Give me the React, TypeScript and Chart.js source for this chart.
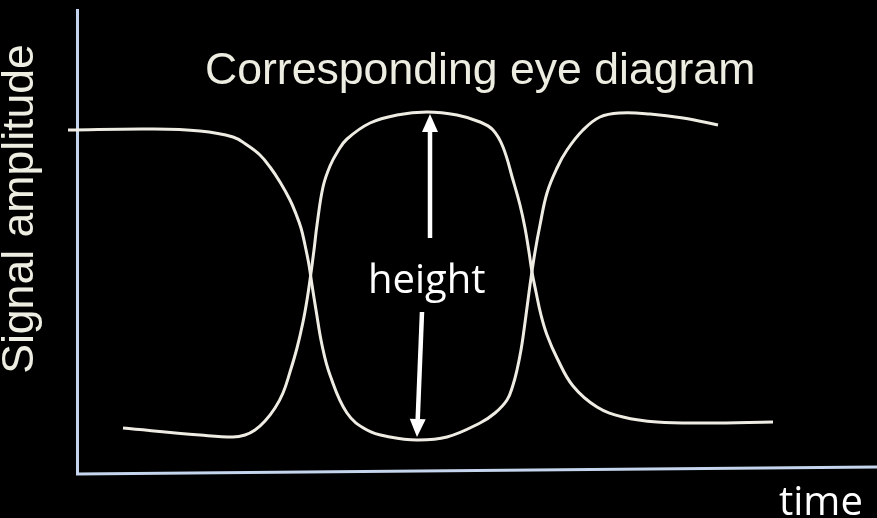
import React, { useEffect, useRef } from "react";
import { Chart, registerables } from "chart.js";

Chart.register(...registerables);

// time (x) and signal amplitude (y), arbitrary units
const curveATime = [-10, 72, 122, 155, 169, 182, 192, 202, 212, 218, 223, 227, 231, 234, 238, 244, 252, 269, 289, 312, 339, 369, 402, 417, 429, 435, 439, 443, 446, 450, 453, 457, 462, 469, 479, 489, 505, 522, 542, 572, 605, 640];
const curveAAmp = [345, 346, 344, 338, 330, 320, 308, 293, 275, 261, 247, 230, 210, 190, 165, 130, 100, 62, 45, 38, 35, 38, 52, 62, 75, 90, 105, 125, 145, 175, 197, 223, 250, 282, 307, 325, 345, 358, 362, 361, 357, 350];

const curveBTime = [45, 122, 155, 167, 177, 187, 197, 205, 212, 219, 225, 229, 232, 236, 239, 245, 252, 260, 269, 292, 319, 349, 379, 402, 415, 425, 435, 442, 447, 451, 454, 458, 463, 469, 479, 495, 519, 545, 579, 629, 695];
const curveBAmp = [47, 40, 38, 40, 45, 54, 67, 82, 103, 127, 153, 175, 195, 225, 250, 288, 309, 324, 336, 352, 360, 363, 360, 353, 345, 328, 295, 270, 247, 223, 203, 183, 160, 140, 117, 89, 68, 58, 53, 52, 53];

// axis frame (y axis top, origin, x axis end)
const frameTime = [-0.5, -0.5, 799];
const frameAmp = [466, 1, 8];

// height arrows: [fromTime, fromAmp, toTime, toAmp]
const arrowUp = [352, 237, 352, 361];
const arrowDown = [344, 163, 339, 38];

const titleText = "Corresponding eye diagram";
const yLabel = "Signal amplitude";
const xLabel = "time";
const heightLabel = "height";

const zip = (xs: number[], ys: number[]) => xs.map((x, i) => ({ x, y: ys[i] }));

const annotationPlugin = {
  id: "eyeAnnotations",
  afterDatasetsDraw(chart: any) {
    const { ctx, scales } = chart;
    const sx = (v: number) => scales.x.getPixelForValue(v);
    const sy = (v: number) => scales.y.getPixelForValue(v);

    const drawArrow = (a: number[]) => {
      const x1 = sx(a[0]), y1 = sy(a[1]), x2 = sx(a[2]), y2 = sy(a[3]);
      const ang = Math.atan2(y2 - y1, x2 - x1);
      const headLen = 18, headW = 8;
      const bx = x2 - headLen * Math.cos(ang);
      const by = y2 - headLen * Math.sin(ang);
      ctx.save();
      ctx.strokeStyle = "#ffffff";
      ctx.fillStyle = "#ffffff";
      ctx.lineWidth = 4.5;
      ctx.lineCap = "butt";
      ctx.beginPath();
      ctx.moveTo(x1, y1);
      ctx.lineTo(bx, by);
      ctx.stroke();
      ctx.beginPath();
      ctx.moveTo(x2, y2);
      ctx.lineTo(bx + headW * Math.sin(ang), by - headW * Math.cos(ang));
      ctx.lineTo(bx - headW * Math.sin(ang), by + headW * Math.cos(ang));
      ctx.closePath();
      ctx.fill();
      ctx.restore();
    };
    drawArrow(arrowUp);
    drawArrow(arrowDown);

    ctx.save();
    ctx.textBaseline = "alphabetic";
    ctx.textAlign = "left";
    ctx.fillStyle = "#EEEDE2";
    ctx.font = "44.6px 'Liberation Sans', Arial, sans-serif";
    ctx.fillText(titleText, sx(127), sy(391));

    ctx.fillStyle = "#ffffff";
    ctx.font = "40px 'Open Sans', sans-serif";
    ctx.fillText(heightLabel, sx(290), sy(182));
    ctx.fillText(xLabel, sx(701), sy(-40));

    ctx.translate(sx(-45), sy(266));
    ctx.rotate(-Math.PI / 2);
    ctx.textAlign = "center";
    ctx.fillStyle = "#EEEDE2";
    ctx.font = "44.6px 'Liberation Sans', Arial, sans-serif";
    ctx.fillText(yLabel, 0, 0);
    ctx.restore();
  },
};

export default function App() {
  const canvasRef = useRef<HTMLCanvasElement | null>(null);

  useEffect(() => {
    document.body.style.margin = "0";
    document.body.style.background = "#000";
    const canvas = canvasRef.current;
    if (!canvas) return;
    const curveStyle = {
      borderColor: "#EFEDE3",
      borderWidth: 3,
      pointRadius: 0,
      showLine: true,
      tension: 0.4,
      fill: false,
      order: 1,
    };
    const chart = new Chart(canvas, {
      type: "scatter",
      data: {
        datasets: [
          {
            label: "frame",
            data: zip(frameTime, frameAmp),
            borderColor: "#C5D5EE",
            borderWidth: 3,
            pointRadius: 0,
            showLine: true,
            tension: 0,
            borderJoinStyle: "miter",
            order: 2,
          },
          { label: "A", data: zip(curveATime, curveAAmp), ...curveStyle },
          { label: "B", data: zip(curveBTime, curveBAmp), ...curveStyle },
        ],
      },
      options: {
        responsive: false,
        animation: false,
        layout: { padding: 0 },
        plugins: { legend: { display: false }, tooltip: { enabled: false }, title: { display: false } },
        scales: {
          x: { type: "linear", min: -78, max: 799, display: false },
          y: { type: "linear", min: -43, max: 475, display: false },
        },
      },
      plugins: [annotationPlugin],
    });
    return () => chart.destroy();
  }, []);

  return (
    <div style={{ width: 877, height: 518, background: "#000" }}>
      <canvas ref={canvasRef} width={877} height={518} style={{ display: "block" }} />
    </div>
  );
}
